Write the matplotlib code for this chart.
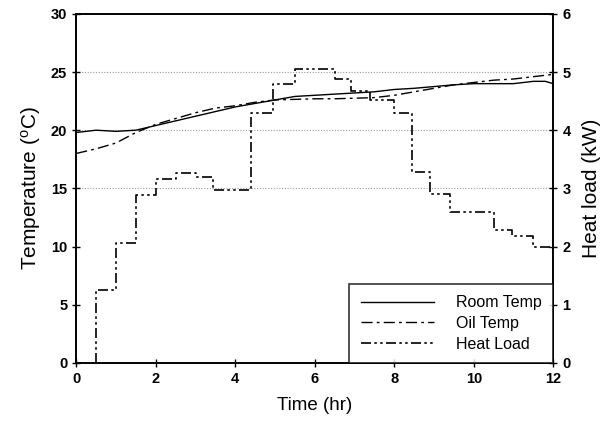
import matplotlib
matplotlib.use('Agg')
import matplotlib.pyplot as plt

plt.rcParams['font.family'] = ['Liberation Sans', 'DejaVu Sans']
plt.rcParams['mathtext.default'] = 'regular'

# temperatures (degC) vs time (hr)
t_room = [0, 0.5, 1.0, 1.5, 2.0, 2.5, 3.0, 3.5, 4.0, 4.5, 5.0, 5.5, 6.0, 6.5, 7.0,
          7.5, 8.0, 8.5, 9.0, 9.5, 10.0, 10.5, 11.0, 11.5, 11.8, 12.0]
room_temp = [19.8, 20.0, 19.9, 20.0, 20.4, 20.8, 21.2, 21.6, 22.0, 22.3, 22.6, 22.9, 23.0, 23.1, 23.2,
             23.3, 23.5, 23.6, 23.75, 23.9, 24.0, 24.0, 24.0, 24.2, 24.2, 24.0]

t_oil = [0, 0.5, 1.0, 1.5, 2.0, 2.5, 3.0, 3.5, 4.0, 4.5, 5.0, 5.5, 6.0, 6.5, 7.0,
         7.5, 8.0, 8.5, 9.0, 9.5, 10.0, 10.5, 11.0, 11.5, 12.0]
oil_temp = [18.0, 18.4, 18.9, 19.8, 20.5, 21.0, 21.5, 21.9, 22.1, 22.4, 22.6, 22.65, 22.7, 22.7, 22.75,
            22.8, 23.0, 23.3, 23.6, 23.9, 24.1, 24.3, 24.4, 24.6, 24.8]

# heat load (kW), stepwise, value held from each start time
t_load = [0.5, 0.5, 1.0, 1.5, 2.0, 2.5, 3.0, 3.45, 4.4, 4.95, 5.5, 6.5, 6.9, 7.4,
          8.0, 8.45, 8.9, 9.4, 10.5, 10.95, 11.5, 12.0]
heat_load = [0.0, 1.25, 2.06, 2.88, 3.16, 3.26, 3.2, 2.97, 4.3, 4.8, 5.05, 4.88, 4.68, 4.52,
             4.3, 3.28, 2.9, 2.6, 2.28, 2.18, 2.0, 1.9]

fig, ax = plt.subplots(figsize=(6.1, 4.33), dpi=100)
fig.subplots_adjust(left=0.125, right=0.907, top=0.968, bottom=0.162)
ax2 = ax.twinx()

l1, = ax.plot(t_room, room_temp, color='black', lw=1.0, label='Room Temp')
l2, = ax.plot(t_oil, oil_temp, color='black', lw=1.0, dashes=(8, 3, 2, 3), label='Oil Temp')
l3, = ax2.step(t_load, heat_load, where='post', color='black', lw=1.2,
               dashes=(6, 2, 1.5, 2, 1.5, 2), label='Heat Load')

ax.set_xlim(0, 12)
ax.set_ylim(0, 30)
ax2.set_ylim(0, 6)
ax.set_xticks(range(0, 13, 2))
ax.set_yticks(range(0, 31, 5))
ax2.set_yticks(range(0, 7))

for y in [15, 20, 25]:
    ax.axhline(y, color='#999999', lw=0.8, ls=(0, (1, 1.5)), zorder=0)

for a in (ax, ax2):
    a.tick_params(direction='inout', length=6, width=1, labelsize=10.5)
    for lab in a.get_xticklabels() + a.get_yticklabels():
        lab.set_fontweight('bold')
    for s in a.spines.values():
        s.set_linewidth(1.2)

ax.set_xlabel('Time (hr)', fontsize=13.5, labelpad=8)
ax.set_ylabel('Temperature ($^{o}$C)', fontsize=15, labelpad=6)
ax2.set_ylabel('Heat load (kW)', fontsize=15, labelpad=8)

leg = ax2.legend(handles=[l1, l2, l3], loc='lower right', fontsize=11.5, frameon=True,
                 fancybox=False, edgecolor='black', borderaxespad=0, handlelength=4.6,
                 handletextpad=1.4, labelspacing=0.35, borderpad=0.7)
leg.get_frame().set_linewidth(1.2)

fig.savefig('out.png', dpi=100)
